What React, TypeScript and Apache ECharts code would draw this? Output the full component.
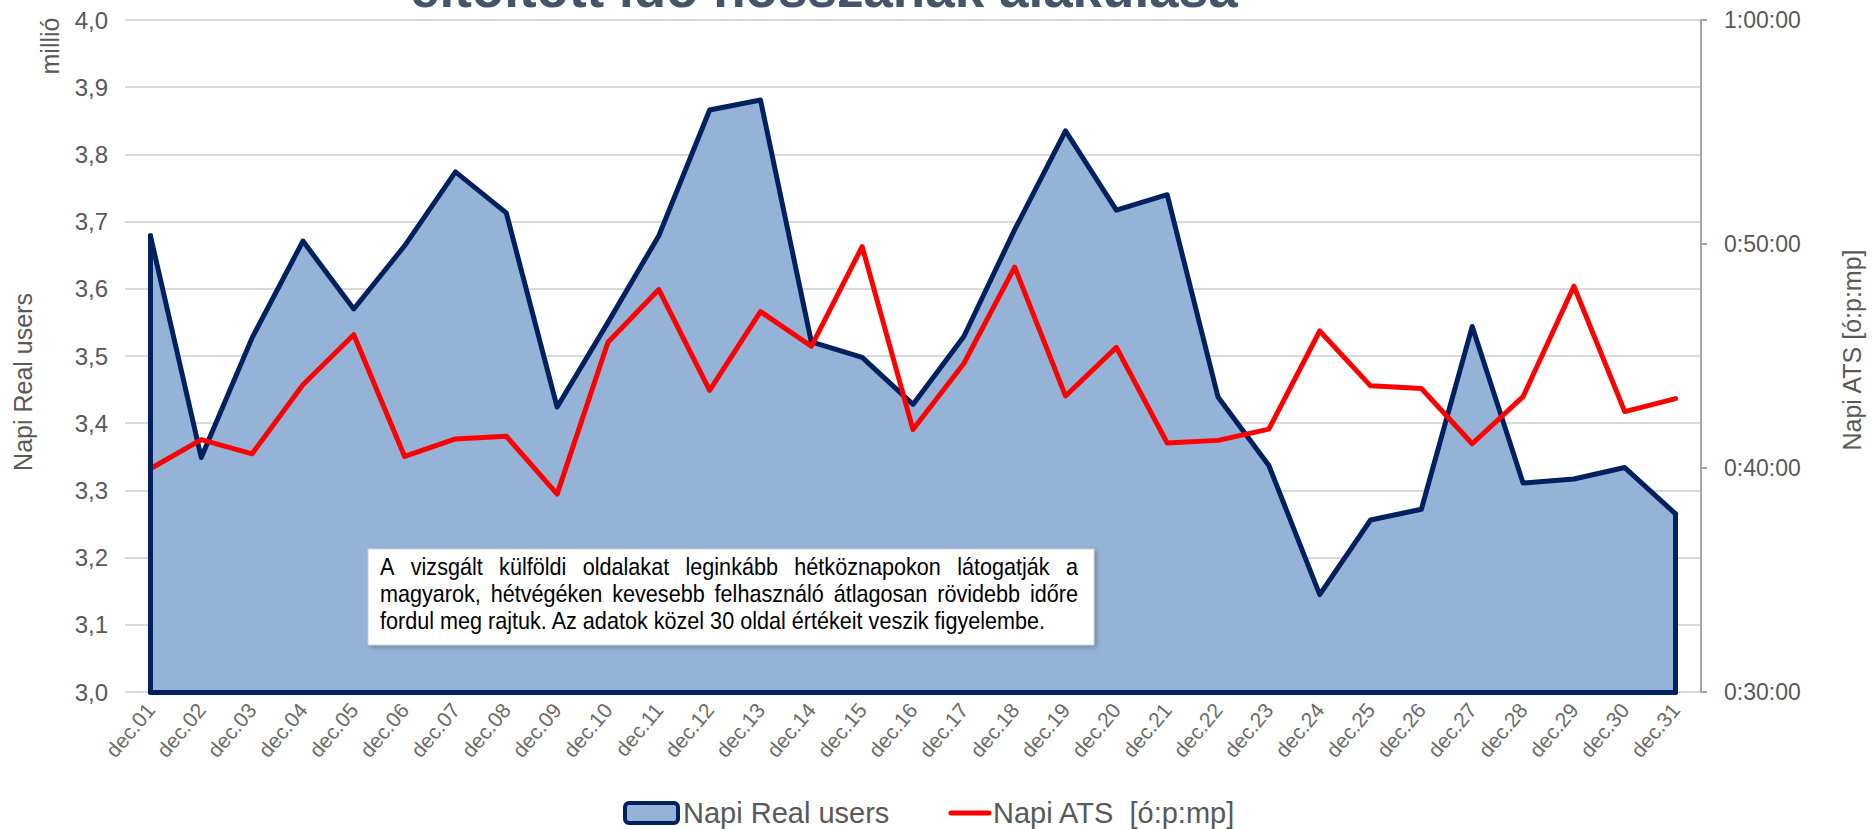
import React, { useEffect, useRef } from "react";
import * as echarts from "echarts";

const days = [
  "dec.01", "dec.02", "dec.03", "dec.04", "dec.05", "dec.06", "dec.07", "dec.08",
  "dec.09", "dec.10", "dec.11", "dec.12", "dec.13", "dec.14", "dec.15", "dec.16",
  "dec.17", "dec.18", "dec.19", "dec.20", "dec.21", "dec.22", "dec.23", "dec.24",
  "dec.25", "dec.26", "dec.27", "dec.28", "dec.29", "dec.30", "dec.31",
];

// Napi Real users (millió)
const realUsers = [
  3.679, 3.349, 3.527, 3.671, 3.57, 3.664, 3.774, 3.713, 3.424, 3.55, 3.679,
  3.866, 3.881, 3.521, 3.498, 3.428, 3.529, 3.688, 3.835, 3.717, 3.74, 3.439,
  3.337, 3.145, 3.256, 3.272, 3.544, 3.311, 3.317, 3.334, 3.265,
];

// Napi ATS in seconds
const atsSeconds = [
  2398, 2476, 2438, 2623, 2757, 2431, 2478, 2485, 2330, 2737, 2878, 2608, 2819,
  2726, 2993, 2503, 2680, 2938, 2593, 2723, 2467, 2474, 2504, 2767, 2620, 2613,
  2465, 2591, 2887, 2551, 2586,
];

const usersAxis = { min: 3.0, max: 4.0, step: 0.1 };
const atsAxis = { min: 1800, max: 3600, step: 600 };

const titleText = "eltöltött idő hosszának alakulása";
const noteLines = [
  "A vizsgált külföldi oldalakat leginkább hétköznapokon látogatják a",
  "magyarok, hétvégéken kevesebb felhasználó átlagosan rövidebb időre",
  "fordul meg rajtuk. Az adatok közel 30 oldal értékeit veszik figyelembe.",
];
const seriesNames = ["Napi Real users", "Napi ATS  [ó:p:mp]"];

const GRAY = "#595959";
const NAVY = "#002060";
const FILL = "#95b3d7";
const RED = "#ff0000";
const SANS = "'Liberation Sans', Arial, sans-serif";

function fmtTime(s: number) {
  const h = Math.floor(s / 3600);
  const m = Math.floor((s % 3600) / 60);
  const sec = Math.round(s % 60);
  return `${h}:${String(m).padStart(2, "0")}:${String(sec).padStart(2, "0")}`;
}

function measure(text: string, font: string) {
  const c = document.createElement("canvas").getContext("2d")!;
  c.font = font;
  return c.measureText(text).width;
}

function buildNote() {
  const boxX = 368, boxY = 549, boxW = 726, boxH = 96;
  const textX = 380, textW = 698;
  const fontSize = 24;
  const squeeze = 0.9;
  const font = `${fontSize}px ${SANS}`;
  const lineYs = [567, 594, 621];
  const children: any[] = [
    {
      type: "rect",
      z: 100,
      shape: { x: boxX, y: boxY, width: boxW, height: boxH },
      style: {
        fill: "#ffffff",
        stroke: "#d0d0d0",
        lineWidth: 1,
        shadowBlur: 4,
        shadowOffsetX: 2,
        shadowOffsetY: 2,
        shadowColor: "rgba(0,0,0,0.25)",
      },
    },
  ];
  const word = (text: string, x: number, y: number) => ({
    type: "text",
    z: 101,
    x,
    y,
    scaleX: squeeze,
    style: { text, fontSize, fontFamily: SANS, fill: "#000", align: "left", verticalAlign: "middle" },
  });
  noteLines.forEach((line, i) => {
    const y = lineYs[i];
    if (i < noteLines.length - 1) {
      const words = line.split(" ");
      const widths = words.map((w) => measure(w, font) * squeeze);
      const total = widths.reduce((a, b) => a + b, 0);
      const gap = (textW - total) / (words.length - 1);
      let x = textX;
      words.forEach((w, j) => {
        children.push(word(w, x, y));
        x += widths[j] + gap;
      });
    } else {
      children.push(word(line, textX, y));
    }
  });
  return { type: "group", z: 100, children };
}

export default function App() {
  const ref = useRef<HTMLDivElement>(null);
  useEffect(() => {
    document.body.style.margin = "0";
    const chart = echarts.init(ref.current!, null, { renderer: "svg" });
    const last = days.length - 1;
    const edge = {
      symbol: ["none", "none"],
      silent: true,
      label: { show: false },
      emphasis: { disabled: true },
      lineStyle: { color: NAVY, width: 5, type: "solid", cap: "round" },
      data: [
        [{ coord: [days[0], usersAxis.min] }, { coord: [days[0], realUsers[0]] }],
        [{ coord: [days[last], usersAxis.min] }, { coord: [days[last], realUsers[last]] }],
        [{ coord: [days[0], usersAxis.min] }, { coord: [days[last], usersAxis.min] }],
      ],
    };
    chart.setOption({
      animation: false,
      grid: { left: 125, right: 170, top: 20, bottom: 137, containLabel: false },
      xAxis: {
        type: "category",
        data: days,
        boundaryGap: true,
        axisLine: { show: false },
        axisTick: { show: false },
        axisLabel: {
          interval: 0,
          rotate: 50,
          fontSize: 21,
          fontFamily: SANS,
          color: "#6a6a6a",
          margin: 14,
        },
      },
      yAxis: [
        {
          type: "value",
          min: usersAxis.min,
          max: usersAxis.max,
          interval: usersAxis.step,
          name: "Napi Real users",
          nameLocation: "middle",
          nameRotate: 90,
          nameGap: 90,
          nameTextStyle: { fontSize: 25, fontFamily: SANS, color: GRAY, padding: [0, 52, 0, 0] },
          axisLine: { show: false },
          axisTick: { show: false },
          splitLine: { lineStyle: { color: "#d9d9d9", width: 2 } },
          axisLabel: {
            fontSize: 24,
            fontFamily: SANS,
            color: GRAY,
            margin: 17,
            formatter: (v: number) => v.toFixed(1).replace(".", ","),
          },
        },
        {
          type: "value",
          position: "right",
          min: atsAxis.min,
          max: atsAxis.max,
          interval: atsAxis.step,
          name: "Napi ATS [ó:p:mp]",
          nameLocation: "middle",
          nameRotate: 90,
          nameGap: 138,
          nameTextStyle: { fontSize: 25, fontFamily: SANS, color: GRAY, padding: [0, 0, 0, 12] },
          splitLine: { show: false },
          axisLine: { show: true, lineStyle: { color: "#a6a6a6", width: 2 } },
          axisTick: { show: true, length: 6, lineStyle: { color: "#a6a6a6", width: 2 } },
          axisLabel: {
            fontSize: 23,
            fontFamily: SANS,
            color: GRAY,
            margin: 23,
            formatter: (v: number) => fmtTime(v),
          },
        },
      ],
      series: [
        {
          name: seriesNames[0],
          type: "line",
          data: realUsers,
          yAxisIndex: 0,
          symbol: "none",
          z: 2,
          lineStyle: { color: NAVY, width: 5, join: "round", cap: "round" },
          areaStyle: { color: FILL, opacity: 1, origin: "start" },
          markLine: edge,
        },
        {
          name: seriesNames[1],
          type: "line",
          data: atsSeconds,
          yAxisIndex: 1,
          symbol: "none",
          z: 4,
          lineStyle: { color: RED, width: 5, join: "round", cap: "round" },
        },
      ],
      graphic: [
        {
          type: "text",
          x: 410,
          y: -12,
          style: {
            text: titleText,
            fontSize: 53,
            fontWeight: "bold",
            fontFamily: SANS,
            fill: "#44546a",
            align: "left",
            verticalAlign: "middle",
          },
        },
        {
          type: "text",
          x: 50,
          y: 46,
          rotation: Math.PI / 2,
          style: {
            text: "millió",
            fontSize: 25,
            fontFamily: SANS,
            fill: GRAY,
            align: "center",
            verticalAlign: "middle",
          },
        },
        buildNote(),
        {
          type: "rect",
          shape: { x: 625, y: 803, width: 53, height: 20, r: 4 },
          style: { fill: FILL, stroke: NAVY, lineWidth: 4 },
        },
        {
          type: "text",
          x: 683,
          y: 813,
          style: {
            text: seriesNames[0],
            fontSize: 29,
            fontFamily: SANS,
            fill: GRAY,
            align: "left",
            verticalAlign: "middle",
          },
        },
        {
          type: "line",
          shape: { x1: 951, y1: 813, x2: 989, y2: 813 },
          style: { stroke: RED, lineWidth: 5, lineCap: "round" },
        },
        {
          type: "text",
          x: 993,
          y: 813,
          style: {
            text: seriesNames[1],
            fontSize: 29,
            fontFamily: SANS,
            fill: GRAY,
            align: "left",
            verticalAlign: "middle",
          },
        },
      ],
    });
    return () => chart.dispose();
  }, []);
  return <div ref={ref} style={{ width: 1872, height: 829 }} />;
}
